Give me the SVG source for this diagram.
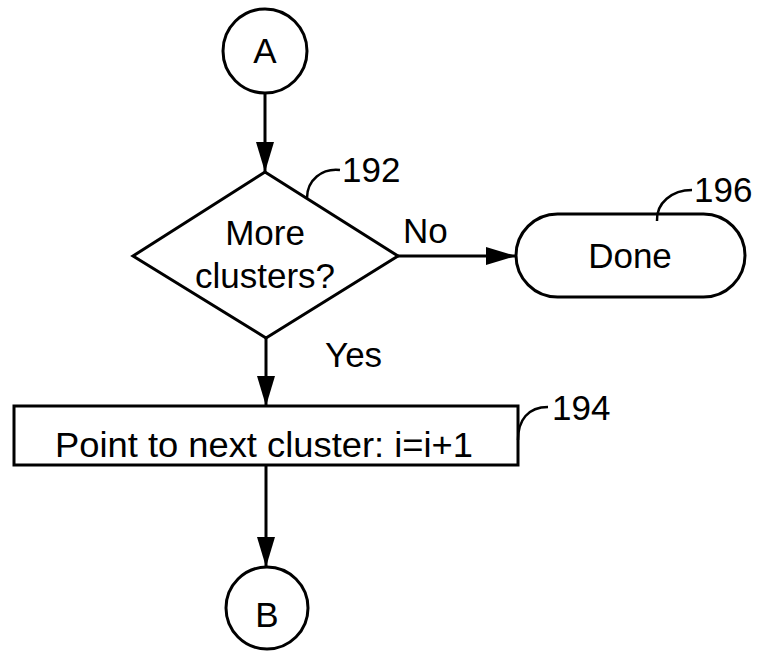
<svg xmlns="http://www.w3.org/2000/svg" width="758" height="652" viewBox="0 0 758 652">
<style>
.s{fill:#fff;stroke:#000;stroke-width:3}
.t{font-family:"Liberation Sans",Arial,sans-serif;font-size:35px;fill:#000;text-anchor:middle}
.n{font-family:"Liberation Sans",Arial,sans-serif;font-size:35px;fill:#000}
.c{fill:none;stroke:#000;stroke-width:3}
.l{fill:none;stroke:#000;stroke-width:2.5}
</style>
<defs>
<marker id="ah" viewBox="0 0 30 18" refX="30" refY="9" markerWidth="30" markerHeight="18" markerUnits="userSpaceOnUse" orient="auto">
<path d="M0,0 L30,9 L0,18 Z" fill="#000"/>
</marker>
</defs>
<g id="connectors">
<line class="c" x1="265" y1="93" x2="265" y2="172" marker-end="url(#ah)"/>
<line class="c" x1="398" y1="256" x2="516" y2="256" marker-end="url(#ah)"/>
<line class="c" x1="266" y1="338" x2="266" y2="406" marker-end="url(#ah)"/>
<line class="c" x1="266" y1="465" x2="266" y2="567" marker-end="url(#ah)"/>
</g>
<g id="nodeA">
<circle class="s" cx="265" cy="51" r="42"/>
<text class="t" x="265" y="63">A</text>
</g>
<g id="node192">
<polygon class="s" points="265,172 398,256 266,338 133,256"/>
<text class="t" x="265" y="245">More</text>
<text class="t" x="265" y="288">clusters?</text>
<path class="l" d="M307,198 C307,180 322,168 340,170"/>
<text class="n" x="342" y="182">192</text>
</g>
<text class="n" x="403" y="243">No</text>
<text class="n" x="325" y="367">Yes</text>
<g id="node196">
<rect class="s" x="516" y="214" width="229" height="83" rx="41.5"/>
<text class="t" x="630" y="268">Done</text>
<path class="l" d="M657,221 C656,203 672,190 692,190"/>
<text class="n" x="694" y="202">196</text>
</g>
<g id="node194">
<rect class="s" x="14" y="406" width="504" height="59"/>
<text class="t" x="264" y="457" textLength="418" lengthAdjust="spacingAndGlyphs">Point to next cluster: i=i+1</text>
<path class="l" d="M518,440 C518,420 528,407 548,407"/>
<text class="n" x="552" y="420">194</text>
</g>
<g id="nodeB">
<circle class="s" cx="267" cy="608" r="41"/>
<text class="t" x="267" y="627">B</text>
</g>
</svg>
